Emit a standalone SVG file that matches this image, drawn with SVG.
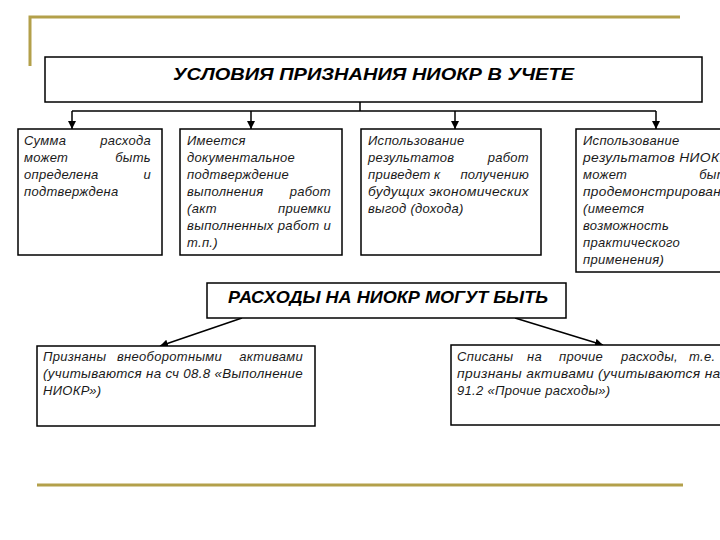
<svg xmlns="http://www.w3.org/2000/svg" width="720" height="540" viewBox="0 0 720 540">
<defs>
<style>
.box{fill:#fff;stroke:#000;stroke-width:1.5}
.gold{fill:none;stroke:#B3A04A;stroke-width:3}
.con{fill:none;stroke:#000;stroke-width:1.5}
.t{font-family:"Liberation Sans",Arial,sans-serif;font-style:italic;font-size:13px;letter-spacing:0.3px;fill:#1a1a1a}
.h{font-family:"Liberation Sans",Arial,sans-serif;font-style:italic;font-weight:bold;font-size:16.5px;fill:#000}
.e{text-anchor:end}
</style>
<marker id="ah" markerUnits="userSpaceOnUse" markerWidth="9" markerHeight="9" refX="8" refY="4" orient="auto">
<path d="M0,0 L8,4 L0,8 z" fill="#000"/>
</marker>
</defs>
<rect width="720" height="540" fill="#fff"/>
<g id="decor">
<polyline class="gold" points="30,66 30,17 680,17"/>
<line class="gold" x1="37" y1="485" x2="683" y2="485"/>
</g>
<g id="connectors">
<line class="con" x1="360" y1="102" x2="360" y2="111"/>
<line class="con" x1="72" y1="111" x2="656" y2="111"/>
<line class="con" x1="72" y1="111" x2="72" y2="129" marker-end="url(#ah)"/>
<line class="con" x1="251" y1="111" x2="251" y2="129" marker-end="url(#ah)"/>
<line class="con" x1="455" y1="111" x2="455" y2="129" marker-end="url(#ah)"/>
<line class="con" x1="656" y1="111" x2="656" y2="129" marker-end="url(#ah)"/>
<line class="con" x1="242" y1="318" x2="160" y2="346" marker-end="url(#ah)"/>
<line class="con" x1="515" y1="318" x2="603" y2="345" marker-end="url(#ah)"/>
</g>
<g id="title">
<rect class="box" x="45" y="57" width="657" height="45"/>
<text class="h" x="173" y="80" textLength="401" lengthAdjust="spacingAndGlyphs">УСЛОВИЯ ПРИЗНАНИЯ НИОКР В УЧЕТЕ</text>
</g>
<g id="cond1">
<rect class="box" x="18" y="129" width="144" height="126"/>
<text class="t" x="24" y="145">Сумма</text><text class="t e" x="151" y="145">расхода</text>
<text class="t" x="24" y="162">может</text><text class="t e" x="151" y="162">быть</text>
<text class="t" x="24" y="179">определена</text><text class="t e" x="151" y="179">и</text>
<text class="t" x="24" y="196">подтверждена</text>
</g>
<g id="cond2">
<rect class="box" x="180" y="129" width="162" height="126"/>
<text class="t" x="187" y="145">Имеется</text>
<text class="t" x="187" y="162">документальное</text>
<text class="t" x="187" y="179">подтверждение</text>
<text class="t" x="187" y="196">выполнения</text><text class="t e" x="331" y="196">работ</text>
<text class="t" x="187" y="213">(акт</text><text class="t e" x="331" y="213">приемки</text>
<text class="t" x="187" y="230" textLength="144" lengthAdjust="spacingAndGlyphs">выполненных работ и</text>
<text class="t" x="187" y="247">т.п.)</text>
</g>
<g id="cond3">
<rect class="box" x="361" y="129" width="180" height="126"/>
<text class="t" x="368" y="145">Использование</text>
<text class="t" x="368" y="162">результатов</text><text class="t e" x="529" y="162">работ</text>
<text class="t" x="368" y="179">приведет</text><text class="t" x="434" y="179">к</text><text class="t e" x="529" y="179">получению</text>
<text class="t" x="368" y="196" textLength="161" lengthAdjust="spacingAndGlyphs">будущих экономических</text>
<text class="t" x="368" y="213">выгод (дохода)</text>
</g>
<g id="cond4">
<rect class="box" x="576" y="129" width="170" height="143"/>
<text class="t" x="583" y="145">Использование</text>
<text class="t" x="583" y="162" textLength="146" lengthAdjust="spacingAndGlyphs">результатов НИОКР</text>
<text class="t" x="583" y="179">может</text><text class="t e" x="735" y="179">быть</text>
<text class="t" x="583" y="196" textLength="146" lengthAdjust="spacingAndGlyphs">продемонстрирована</text>
<text class="t" x="583" y="213">(имеется</text>
<text class="t" x="583" y="230">возможность</text>
<text class="t" x="583" y="247">практического</text>
<text class="t" x="583" y="264">применения)</text>
</g>
<g id="expenses">
<rect class="box" x="207" y="283" width="359" height="35"/>
<text class="h" x="228" y="303" textLength="320" lengthAdjust="spacingAndGlyphs">РАСХОДЫ НА НИОКР МОГУТ БЫТЬ</text>
</g>
<g id="assets">
<rect class="box" x="37" y="346" width="278" height="80"/>
<text class="t" x="43" y="361">Признаны</text>
<text class="t" x="117" y="361">внеоборотными</text>
<text class="t e" x="303" y="361">активами</text>
<text class="t" x="43" y="378" textLength="260" lengthAdjust="spacingAndGlyphs">(учитываются на сч 08.8 «Выполнение</text>
<text class="t" x="43" y="395">НИОКР»)</text>
</g>
<g id="other">
<rect class="box" x="451" y="345" width="300" height="80"/>
<text class="t" x="457" y="361">Списаны</text>
<text class="t" x="527" y="361">на</text>
<text class="t" x="559" y="361">прочие</text>
<text class="t" x="621" y="361">расходы,</text>
<text class="t" x="689" y="361">т.е.</text>
<text class="t" x="724" y="361">не</text>
<text class="t" x="457" y="378" textLength="282" lengthAdjust="spacingAndGlyphs">признаны активами (учитываются на сч</text>
<text class="t" x="457" y="395">91.2 «Прочие расходы»)</text>
</g>
</svg>
